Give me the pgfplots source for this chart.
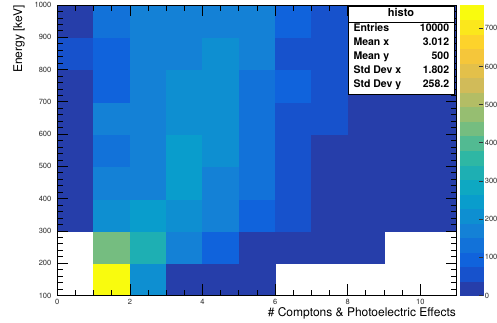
\documentclass[border=0pt]{standalone}
\usepackage{pgfplots}
\pgfplotsset{compat=1.18}
\usepackage{fontspec}
\setmainfont{TeX Gyre Heros}
\pgfdeclareplotmark{cell}{%
  \pgfpathrectangle{\pgfpoint{-18.15pt}{-16.139pt}}{\pgfpoint{36.3pt}{32.278pt}}%
  \pgfusepathqfillstroke}
\pgfplotstableread{
x y c
1.5 150 761
2.5 150 215
3.5 150 30
4.5 150 28
5.5 150 25
1.5 250 440
2.5 250 325
3.5 250 170
4.5 250 95
5.5 250 25
6.5 250 20
7.5 250 15
8.5 250 10
0.5 350 20
1.5 350 205
2.5 350 245
3.5 350 210
4.5 350 175
5.5 350 95
6.5 350 60
7.5 350 30
8.5 350 20
9.5 350 15
10.5 350 12
0.5 450 25
1.5 450 170
2.5 450 175
3.5 450 245
4.5 450 180
5.5 450 135
6.5 450 65
7.5 450 30
8.5 450 20
9.5 450 15
10.5 450 10
0.5 550 25
1.5 550 125
2.5 550 170
3.5 550 245
4.5 550 210
5.5 550 140
6.5 550 60
7.5 550 30
8.5 550 20
9.5 550 15
10.5 550 10
0.5 650 25
1.5 650 170
2.5 650 175
3.5 650 210
4.5 650 205
5.5 650 140
6.5 650 60
7.5 650 55
8.5 650 20
9.5 650 15
10.5 650 10
0.5 750 25
1.5 750 95
2.5 750 175
3.5 750 210
4.5 750 210
5.5 750 135
6.5 750 95
7.5 750 55
8.5 750 25
9.5 750 15
10.5 750 10
0.5 850 55
1.5 850 95
2.5 850 170
3.5 850 170
4.5 850 210
5.5 850 170
6.5 850 60
7.5 850 55
8.5 850 25
9.5 850 15
10.5 850 10
0.5 950 30
1.5 950 140
2.5 950 175
3.5 950 175
4.5 950 170
5.5 950 170
6.5 950 95
7.5 950 60
8.5 950 25
9.5 950 15
10.5 950 10
}\histo
\begin{document}
\begin{tikzpicture}
\begin{axis}[
  scale only axis, width=399.3pt, height=290.5pt,
  xmin=0, xmax=11, ymin=100, ymax=1000,
  xtick={0,2,...,10}, minor x tick num=3,
  ytick={100,200,...,1000}, minor y tick num=4,
  tick align=inside,
  xtick pos=both, ytick pos=both,
  major tick length=11pt, minor tick length=5.5pt,
  tick style={draw=black, line width=0.8pt},
  axis line style={draw=black, line width=0.8pt},
  set layers, axis on top,
  /pgf/number format/assume math mode=true,
  /pgf/number format/1000 sep={},
  tick label style={font=\fontsize{7.5}{9}\selectfont, text=black!85},
  yticklabel style={xshift=-2.5pt},
  xticklabel style={yshift=-0.5pt},
  label style={font=\fontsize{12}{14}\selectfont},
  xlabel={\# Comptons \& Photoelectric Effects},
  xlabel style={at={(axis description cs:1,0)}, anchor=east, yshift=-17.5pt, xshift=-0.5pt, inner sep=0pt},
  ylabel={Energy [keV]},
  ylabel style={at={(axis description cs:-0.0959,1)}, anchor=east, inner sep=0pt},
  colormap={rootbird}{
    rgb=(0.1486,0.2438,0.6649) rgb=(0.0890,0.3212,0.8006)
    rgb=(0.0630,0.3887,0.8624) rgb=(0.0705,0.4464,0.8505)
    rgb=(0.0780,0.5041,0.8385) rgb=(0.0561,0.5592,0.8197)
    rgb=(0.0342,0.6143,0.8008) rgb=(0.0546,0.6571,0.7616)
    rgb=(0.1174,0.6874,0.7021) rgb=(0.1802,0.7178,0.6425)
    rgb=(0.3202,0.7304,0.5720) rgb=(0.4601,0.7429,0.5015)
    rgb=(0.5878,0.7459,0.4429) rgb=(0.7032,0.7394,0.3964)
    rgb=(0.8186,0.7328,0.3499) rgb=(0.8894,0.7542,0.2887)
    rgb=(0.9602,0.7755,0.2274) rgb=(0.9918,0.8256,0.1682)
    rgb=(0.9841,0.9044,0.1111) rgb=(0.9764,0.9832,0.0539)},
  colormap access=piecewise constant,
  point meta min=0, point meta max=761,
  colorbar,
  colorbar style={
    scale only axis, width=24pt, height=290.5pt,
    at={(parent axis.north east)}, anchor=north west, xshift=-5.836pt,
    ytick={0,100,...,700}, ytick pos=right, yticklabel pos=right,
    tick align=inside, major tick length=4.5pt, minor tick num=0,
    axis line style={draw=none},
    tick style={draw=black!80, line width=0.8pt},
    /pgf/number format/assume math mode=true,
    /pgf/number format/1000 sep={},
    yticklabel style={font=\fontsize{7.5}{9}\selectfont, text=black!85, xshift=-2pt},
  },
]
\addplot[scatter, only marks, mark=cell, point meta=explicit,
  scatter/use mapped color={draw=mapped color, fill=mapped color},
  mark options={line width=0.3pt}]
  table[x=x, y=y, meta=c] {\histo};
\coordinate (sw) at (rel axis cs:0,0);
\begin{pgfonlayer}{axis foreground}
\fill[black] ([shift={(292pt,200.2pt)}]sw) rectangle ([shift={(398pt,288.2pt)}]sw);
\draw[fill=white, line width=0.7pt] ([shift={(290.7pt,201.5pt)}]sw) rectangle ([shift={(396.7pt,289.5pt)}]sw);
\draw[line width=0.6pt] ([shift={(290.7pt,273pt)}]sw) -- ([shift={(396.7pt,273pt)}]sw);
\begin{scope}[every node/.style={inner sep=0pt, font=\fontsize{10.5}{12}\selectfont\bfseries}]
\node[anchor=mid] at ([shift={(343.7pt,281.5pt)}]sw) {\fontsize{11}{12}\selectfont histo};
\node[anchor=mid west] at ([shift={(296pt,267pt)}]sw) {Entries};
\node[anchor=mid east] at ([shift={(392pt,267pt)}]sw) {10000};
\node[anchor=mid west] at ([shift={(296pt,253pt)}]sw) {Mean x};
\node[anchor=mid east] at ([shift={(392pt,253pt)}]sw) {3.012};
\node[anchor=mid west] at ([shift={(296pt,239pt)}]sw) {Mean y};
\node[anchor=mid east] at ([shift={(392pt,239pt)}]sw) {500};
\node[anchor=mid west] at ([shift={(296pt,225pt)}]sw) {Std Dev x};
\node[anchor=mid east] at ([shift={(392pt,225pt)}]sw) {1.802};
\node[anchor=mid west] at ([shift={(296pt,211pt)}]sw) {Std Dev y};
\node[anchor=mid east] at ([shift={(392pt,211pt)}]sw) {258.2};
\end{scope}
\end{pgfonlayer}
\end{axis}
\pgfresetboundingbox
\useasboundingbox ([shift={(-57.3pt,-27.5pt)}]sw) rectangle ([shift={(439.7pt,295.5pt)}]sw);
\end{tikzpicture}
\end{document}
